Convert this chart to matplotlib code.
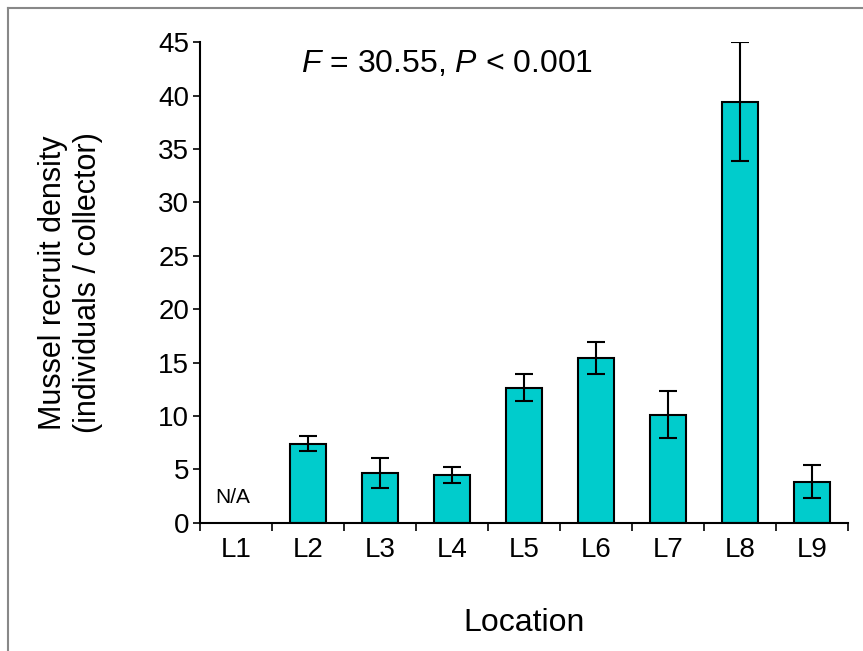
import numpy as np
import matplotlib.pyplot as plt
from matplotlib.lines import Line2D

plt.rcParams['font.family'] = ['Liberation Sans', 'DejaVu Sans']
plt.rcParams['mathtext.fontset'] = 'custom'
plt.rcParams['mathtext.it'] = 'Liberation Sans:italic'
plt.rcParams['mathtext.rm'] = 'Liberation Sans'

# data
locations = ["L1", "L2", "L3", "L4", "L5", "L6", "L7", "L8", "L9"]
density = [np.nan, 7.4, 4.7, 4.5, 12.6, 15.4, 10.1, 39.4, 3.8]
err_low = [np.nan, 6.7, 3.3, 3.7, 11.4, 13.9, 7.9, 33.9, 2.3]
err_high = [np.nan, 8.1, 6.1, 5.2, 13.9, 16.9, 12.3, 45.0, 5.4]

dens = np.array(density)
yerr = np.vstack([dens - np.array(err_low), np.array(err_high) - dens])
x = np.arange(len(locations))

fig = plt.figure(figsize=(8.63, 6.51), dpi=100)
ax = fig.add_axes([0.232, 0.197, 0.751, 0.738])

ax.bar(x[1:], dens[1:], width=0.5, color="#00CCCC", edgecolor="black",
       linewidth=1.5, yerr=yerr[:, 1:], capsize=6.5,
       error_kw=dict(elinewidth=1.5, capthick=1.5, ecolor="black"))

ax.text(-0.05, 2.4, "N/A", ha="center", va="center", fontsize=15)
ax.text(2.93, 43.0, r"$\it{F}$ = 30.55, $\it{P}$ < 0.001", ha="center",
        va="center", fontsize=23)

ax.set_xlim(-0.5, len(locations) - 0.5)
ax.set_ylim(0, 45)
ax.set_yticks(np.arange(0, 46, 5))
ax.set_xticks(np.arange(-0.5, len(locations), 1))
ax.set_xticklabels([])
ax.set_xticks(x, minor=True)
ax.set_xticklabels(locations, minor=True)
ax.tick_params(axis="x", which="minor", length=0, labelsize=20, pad=10)
ax.tick_params(axis="x", which="major", length=6, width=1.2)
ax.tick_params(axis="y", length=5, width=1.2, labelsize=20, pad=3)

for s in ["top", "right"]:
    ax.spines[s].set_visible(False)
for s in ["left", "bottom"]:
    ax.spines[s].set_linewidth(1.5)

ax.set_xlabel("Location", fontsize=23, labelpad=33)
ax.set_ylabel("Mussel recruit density\n(individuals / collector)", fontsize=22,
              labelpad=40)

# figure frame
fig.add_artist(Line2D([8 / 863, 1.0], [1 - 8 / 651, 1 - 8 / 651],
                      transform=fig.transFigure, color="#888888", lw=1.5))
fig.add_artist(Line2D([8 / 863, 8 / 863], [1 - 8 / 651, 0],
                      transform=fig.transFigure, color="#888888", lw=1.5))

fig.savefig("out.png", dpi=100)
